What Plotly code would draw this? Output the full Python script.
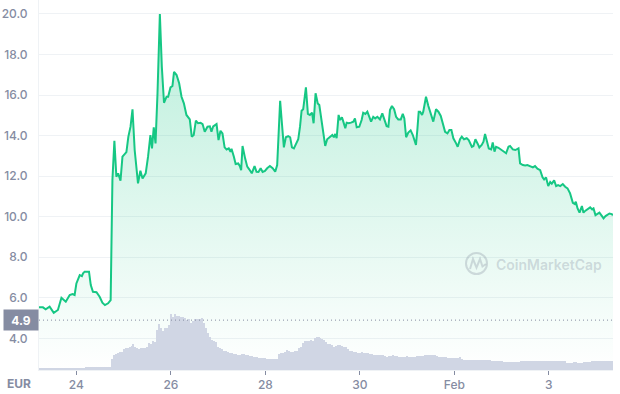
import plotly.graph_objects as go
from datetime import datetime, timedelta

# ---------------- data ----------------
BASE_TIME = datetime(2022, 1, 23, 0, 0)

# hours after BASE_TIME for each price sample
PRICE_HOURS = [
    5.0, 7.0, 8.4, 10.4, 12.5, 14.6, 16.4, 18.6, 20.6, 22.0,
    23.1, 24.0, 25.7, 26.8, 27.4, 28.2, 30.4, 31.3, 32.4, 34.2,
    35.8, 37.2, 38.5, 40.1, 41.4, 42.3, 43.3, 44.3, 45.2, 46.4,
    47.4, 48.6, 49.4, 50.4, 51.5, 52.5, 53.6, 55.3, 56.5, 57.6,
    59.2, 60.4, 61.6, 62.4, 63.3, 64.2, 65.2, 66.4, 67.4, 68.5,
    69.8, 70.6, 71.8, 72.8, 73.6, 74.9, 76.2, 77.4, 78.6, 79.9,
    81.6, 82.6, 83.6, 84.7, 85.8, 87.1, 88.1, 89.2, 90.6, 91.8,
    92.6, 93.5, 95.2, 96.2, 97.2, 98.2,
    99.3, 100.3, 101.4, 102.3, 102.8, 104.0, 104.9, 106.2, 107.0, 107.7,
    108.4, 109.7, 110.8, 111.8, 113.1, 114.5, 115.5, 116.5, 117.6, 118.6,
    119.8, 120.9, 122.3, 123.7, 125.0, 126.0, 126.7, 127.5, 128.4, 129.4,
    130.4, 131.6, 132.6, 133.5, 134.5, 135.5, 136.7, 137.6, 138.4, 139.2,
    140.6, 141.6, 142.6, 143.7, 144.5, 145.5, 146.6, 147.4, 148.6, 149.4,
    150.4, 151.4, 152.8, 154.0, 154.8, 155.5, 156.2, 157.2, 157.9, 158.9,
    159.6, 160.6, 161.3, 162.3, 163.5, 164.7, 165.5, 166.4, 167.7, 168.9,
    169.7, 170.8, 171.8, 172.8, 173.7, 174.8, 175.8, 176.9, 178.2, 179.4,
    180.4, 181.6, 182.5, 183.3, 184.3, 185.4, 186.4, 187.5, 188.8, 189.8,
    190.6, 191.5, 192.6, 193.8, 194.9, 195.5, 196.5, 197.2, 197.9,
    198.6, 199.6, 200.2, 201.6, 202.8, 204.0, 205.3, 206.7, 207.9, 209.1,
    210.1, 211.3, 212.5, 213.5, 214.5, 215.5, 216.9, 217.7, 218.9, 219.8,
    220.9, 222.3, 223.3, 224.9, 225.7, 226.7, 227.9, 228.7, 229.9, 230.8,
    231.6, 232.5, 233.5, 234.7, 235.5, 236.4, 237.2, 238.4, 239.6, 240.9,
    242.3, 243.5, 244.3, 245.7, 247.0, 248.6, 249.4, 250.8, 252.0, 253.1,
    254.5, 255.9, 257.0, 258.2, 259.6, 260.8, 261.6, 262.6, 263.7, 264.7,
    265.5, 266.7, 267.7, 268.7, 269.8, 271.1, 272.3, 273.5, 274.8, 276.2,
    277.2, 277.7, 278.6, 279.6, 280.8, 281.6, 282.6, 283.9, 285.0, 286.0,
    286.7, 287.7, 288.7, 289.7, 291.0, 291.8, 292.8, 293.8, 294.8, 295.9,
    296.6,
]

PRICE_EUR = [
    5.53, 5.53, 5.43, 5.56, 5.26, 5.40, 6.00, 5.81, 6.14, 6.19,
    6.14, 6.71, 7.12, 7.07, 7.21, 7.29, 7.29, 6.63, 6.30, 6.28,
    6.05, 5.76, 5.64, 5.73, 5.89, 11.81, 13.75, 11.97, 12.14, 11.78,
    12.96, 13.13, 13.19, 13.95, 14.44, 15.30, 13.29, 11.65, 12.27, 11.89,
    12.14, 12.96, 14.03, 13.37, 14.41, 13.62, 16.09, 20.0, 17.40, 15.62,
    15.92, 15.92, 16.38, 16.45, 17.15, 16.99, 16.58, 15.92, 15.59, 15.02,
    14.80, 13.95, 14.03, 14.74, 14.61, 14.63, 14.57, 14.19, 14.44, 14.46,
    14.19, 14.46, 14.57, 13.78, 14.24, 14.11,
    13.42, 13.32, 13.37, 13.21, 13.35, 12.96, 12.60, 12.63, 12.50, 12.30,
    13.49, 12.88, 12.47, 12.34, 12.14, 12.50, 12.22, 12.21, 12.39, 12.21,
    12.26, 12.39, 12.50, 12.39, 12.22, 12.55, 13.95, 15.72, 14.61, 13.42,
    13.92, 13.98, 13.92, 13.42, 13.37, 13.62, 13.82, 14.44, 15.23, 15.30,
    16.38, 15.07, 15.02, 15.13, 14.61, 16.09, 15.59, 15.51, 14.69, 14.36,
    13.49, 13.82, 13.92, 14.03, 13.92, 14.08, 13.87, 15.02, 14.77, 14.90,
    14.69, 14.36, 14.64, 14.61, 14.64, 14.69, 14.85, 14.41, 14.44, 14.77,
    15.13, 15.07, 15.18, 14.90, 14.69, 14.93, 14.85, 14.93, 14.80, 15.10,
    14.77, 14.47, 14.44, 15.26, 15.46, 15.30, 14.93, 14.80, 14.80, 15.07,
    14.85, 13.92, 14.15, 14.26, 14.03, 13.82, 13.54, 14.28, 15.18,
    15.18, 15.02, 15.18, 15.92, 15.46, 15.10, 14.69, 15.30, 15.18, 14.97,
    14.61, 14.19, 14.11, 14.28, 14.28, 13.87, 13.62, 13.45, 13.82, 13.95,
    13.82, 13.87, 13.78, 13.45, 13.49, 13.82, 13.59, 13.42, 13.54, 13.70,
    14.08, 13.78, 13.37, 13.32, 13.66, 13.21, 13.45, 13.40, 13.32, 13.21,
    13.13, 13.45, 13.49, 13.32, 13.29, 13.37, 12.63, 12.55, 12.53, 12.55,
    12.50, 12.43, 12.50, 12.37, 12.30, 11.94, 11.84, 11.94, 11.51, 11.71,
    11.63, 11.79, 11.51, 11.56, 11.51, 11.61, 11.48, 11.40, 11.15, 10.69,
    10.63, 10.74, 10.41, 10.20, 10.53, 10.20, 10.30, 10.41, 10.46, 10.36,
    10.41, 10.08, 10.13, 10.20, 10.03, 9.92, 10.03, 10.08, 10.16, 10.13,
    10.08,
]

# hourly volume (relative units), first bar at hour 5 after BASE_TIME
VOLUME_START_HOUR = 5
VOLUME = [
    1.7, 1.7, 1.7, 1.7, 1.7, 1.7, 1.7, 1.7, 1.7, 1.7, 1.7, 1.7,
    1.7, 1.7, 1.7, 1.7, 1.7, 1.7, 1.7, 1.7, 1.7, 1.7, 1.7, 1.7,
    2.7, 2.7, 2.7, 2.7, 2.7, 2.7, 2.7, 2.7, 2.7, 2.7, 2.7, 2.7, 2.7,
    11, 15, 16, 17, 18, 18, 21, 22, 22, 23,
    24, 26, 23, 22, 21, 22, 22, 22, 23, 27,
    26, 29, 28, 40, 46, 42, 39, 42, 42, 45,
    56, 53, 56, 54, 54, 53, 53, 52, 50, 51,
    47, 49, 51, 51, 51, 51, 52, 47, 42, 37,
    33, 30, 29, 28, 23, 22, 21, 19, 19, 18,
    17, 17, 16, 16, 15, 15, 16, 16, 15, 15,
    14, 14, 13, 13, 13, 12, 12, 12, 12, 11,
    11, 11, 11, 11, 11,
    16, 17, 17, 18, 20, 19, 18, 18, 19, 19,
    22, 23, 27, 29, 29, 29, 30, 29, 32, 33,
    33, 32, 31, 30, 28, 26, 26, 25, 23, 24,
    25, 25, 24, 23, 23, 21, 19, 19, 18, 18,
    17, 17, 18, 17, 17, 17, 16, 16, 15, 15,
    15, 15, 15, 15, 14, 13, 14, 14, 15, 14,
    14, 13, 13, 13, 13, 14, 13, 13, 13, 13,
    14, 14, 14, 14, 15, 15, 15, 15, 15, 15,
    14, 13, 13, 13, 13, 13, 12, 12, 12, 12,
    12, 12, 13, 11, 10, 10, 10, 10, 10, 10,
    10, 10, 10, 10, 10, 10, 10, 10, 9, 9,
    9, 9, 9, 9, 8.5, 8.5, 8.5, 8.5, 8.5, 8.5,
    8.5, 8.5, 8.5, 9, 9, 9, 9, 9, 9, 9,
    9, 9, 9, 9, 9, 9, 9, 9, 9, 9,
    9, 9, 9, 9, 9, 9, 7.5, 7.5, 7.5, 7.5,
    8, 8, 7.5, 7.5, 7.5, 8, 8, 8, 8, 9,
    9, 9, 9, 9, 9, 9, 9, 9, 9, 9,
]

PRICE_TICKS = [4, 6, 8, 10, 12, 14, 16, 18, 20]
X_TICK_DATES = ["2022-01-24", "2022-01-26", "2022-01-28", "2022-01-30", "2022-02-01", "2022-02-03"]
X_TICK_TEXT = ["24", "26", "28", "30", "Feb", "3"]
MARKER_PRICE = 4.9
MARKER_TEXT = "4.9"
CURRENCY = "EUR"
WATERMARK = "CoinMarketCap"

assert len(PRICE_HOURS) == len(PRICE_EUR)

# ---------------- style ----------------
GREEN = "#16c784"
GRAY = "#858ca2"
GRID = "#eff2f5"
VOL_COLOR = "#d0d6e4"
W, H = 620, 394
M_L, M_R, M_T, M_B = 39, 7, 0, 24
PLOT_W, PLOT_H = W - M_L - M_R, H - M_T - M_B

price_x = [BASE_TIME + timedelta(hours=h) for h in PRICE_HOURS]
vol_x = [BASE_TIME + timedelta(hours=VOLUME_START_HOUR + i) for i in range(len(VOLUME))]

Y_RANGE = [2.44, 20.69]


def px_to_paper(px, py):
    return (px - M_L) / PLOT_W, (H - M_B - py) / PLOT_H


fig = go.Figure()

fig.add_trace(go.Scatter(
    x=price_x, y=PRICE_EUR, mode="lines",
    line=dict(color=GREEN, width=2),
    fill="tozeroy",
    fillgradient=dict(type="vertical", start=Y_RANGE[0], stop=20.0,
                      colorscale=[[0, "rgba(22,199,132,0.0)"], [1, "rgba(22,199,132,0.30)"]]),
    yaxis="y", hoverinfo="skip",
))

fig.add_trace(go.Bar(
    x=vol_x, y=VOLUME, yaxis="y2",
    marker=dict(color=VOL_COLOR, line=dict(width=0)),
    width=0.5 * 3600 * 1000, hoverinfo="skip",
))

x_range = [price_x[0], price_x[-1]]

fig.update_layout(
    width=W, height=H,
    margin=dict(l=M_L, r=M_R, t=M_T, b=M_B, pad=0),
    plot_bgcolor="white", paper_bgcolor="white",
    showlegend=False, bargap=0,
    font=dict(family="Inter, Roboto, sans-serif", color=GRAY),
    xaxis=dict(
        type="date", range=x_range,
        tickvals=X_TICK_DATES, ticktext=X_TICK_TEXT,
        showgrid=False, zeroline=False,
        showline=True, linecolor=GRID, linewidth=1,
        ticks="outside", ticklen=4, tickwidth=1, tickcolor=GRAY,
        tickfont=dict(family="Inter", size=12, color=GRAY, weight=500),
    ),
    yaxis=dict(
        range=Y_RANGE, tickvals=PRICE_TICKS, tickformat=".1f",
        showgrid=True, gridcolor=GRID, gridwidth=1, zeroline=False,
        showline=True, linecolor=GRID, linewidth=1,
        ticks="", ticklabelstandoff=8,
        tickfont=dict(family="Inter", size=12, color=GRAY, weight=500),
    ),
    yaxis2=dict(overlaying="y", range=[0, 370], visible=False, fixedrange=True),
)

# dotted marker line
fig.add_shape(type="line", xref="paper", x0=0, x1=1, yref="y", y0=MARKER_PRICE, y1=MARKER_PRICE,
              line=dict(color=GRAY, width=1, dash="1px,3px"), layer="above")

fig.add_annotation(xref="paper", x=0, xanchor="right", yref="y", y=MARKER_PRICE, yanchor="middle",
                   text=MARKER_TEXT, showarrow=False, bgcolor=GRAY, width=28, height=14, borderpad=3,
                   font=dict(family="Inter", size=12, color="white", weight=700))

ex, ey = px_to_paper(5, 383)
fig.add_annotation(xref="paper", x=ex, xanchor="left", yref="paper", y=ey, yanchor="middle",
                   text=CURRENCY, showarrow=False,
                   font=dict(family="Inter", size=12, color=GRAY, weight=700))

# watermark
WM = "rgba(128,138,157,0.30)"
tx, ty = px_to_paper(494, 264)
fig.add_annotation(xref="paper", x=tx, xanchor="left", yref="paper", y=ty, yanchor="middle",
                   text=WATERMARK, showarrow=False,
                   font=dict(family="Inter", size=14, color=WM, weight=600))
cx0, cy0 = px_to_paper(466, 274)
cx1, cy1 = px_to_paper(487, 253)
fig.add_shape(type="circle", xref="paper", yref="paper", x0=cx0, y0=cy0, x1=cx1, y1=cy1,
              line=dict(color=WM, width=2))
pts = [(470, 269), (473, 259), (476.5, 267.5), (480, 259), (482.5, 266.5), (486, 264)]
path = "M " + " L ".join(f"{px_to_paper(a, b)[0]:.4f},{px_to_paper(a, b)[1]:.4f}" for a, b in pts)
fig.add_shape(type="path", xref="paper", yref="paper", path=path, line=dict(color=WM, width=2))

fig.write_html("out.html")
